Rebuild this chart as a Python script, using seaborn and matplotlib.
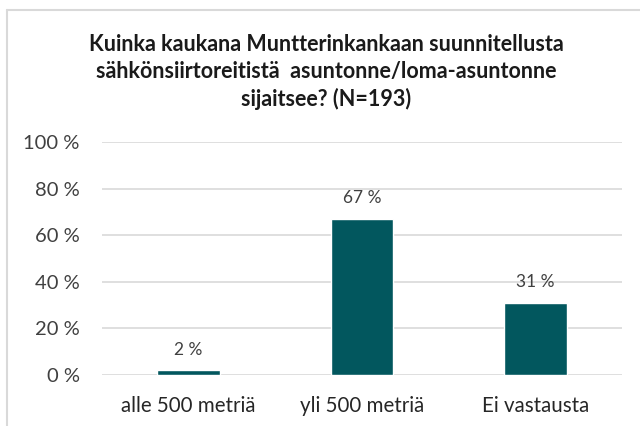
import matplotlib
matplotlib.use("Agg")
import matplotlib.pyplot as plt
import seaborn as sns
import pandas as pd
from matplotlib.lines import Line2D

categories = ["alle 500 metriä", "yli 500 metriä", "Ei vastausta"]
values = [2, 67, 31]
yticks = [0, 20, 40, 60, 80, 100]
title = "Kuinka kaukana Muntterinkankaan suunnitellusta\nsähkönsiirtoreitistä  asuntonne/loma-asuntonne\nsijaitsee? (N=193)"

sns.set_theme(style="white")
plt.rcParams['font.family'] = ['Lato', 'DejaVu Sans']

df = pd.DataFrame({"cat": categories, "val": values})

fig = plt.figure(figsize=(6.4, 4.26), dpi=100)
ax = fig.add_axes([102/640, 51/426, 520/640, 233/426])
sns.barplot(data=df, x="cat", y="val", color="#02575e", width=0.36,
            saturation=1, ax=ax, zorder=3)

ax.set_ylim(0, 100)
ax.set_xlim(-0.5, 2.5)
ax.set_yticks(yticks)
ax.set_yticklabels([f"{t} %" for t in yticks], fontsize=14.5, color="#404040")
ax.tick_params(axis="y", length=0, pad=16)
ax.tick_params(axis="x", length=0, pad=15, labelsize=14.8, labelcolor="#262626")
ax.set_xlabel("")
ax.set_ylabel("")
for s in ax.spines.values():
    s.set_visible(False)
ax.yaxis.grid(True, color="#d9d9d9", linewidth=1.2, zorder=0)
ax.xaxis.grid(False)

for i, v in enumerate(values):
    ax.annotate(f"{v} %", xy=(i, v), xytext=(0, 9), textcoords="offset points",
                ha="center", va="bottom", fontsize=12.5, color="#404040")

fig.text(326/640, 1 - 72/426, title, ha="center", va="center", fontsize=15.5,
         fontweight="bold", color="#1a1a1a", linespacing=1.34)

# chart frame
fig.add_artist(Line2D([7/640, 7/640], [0, 1 - 10/426], transform=fig.transFigure,
                      color="#d9d9d9", linewidth=1.5))
fig.add_artist(Line2D([7/640, 1], [1 - 10/426, 1 - 10/426], transform=fig.transFigure,
                      color="#d9d9d9", linewidth=1.5))

fig.savefig("out.png", dpi=100)
